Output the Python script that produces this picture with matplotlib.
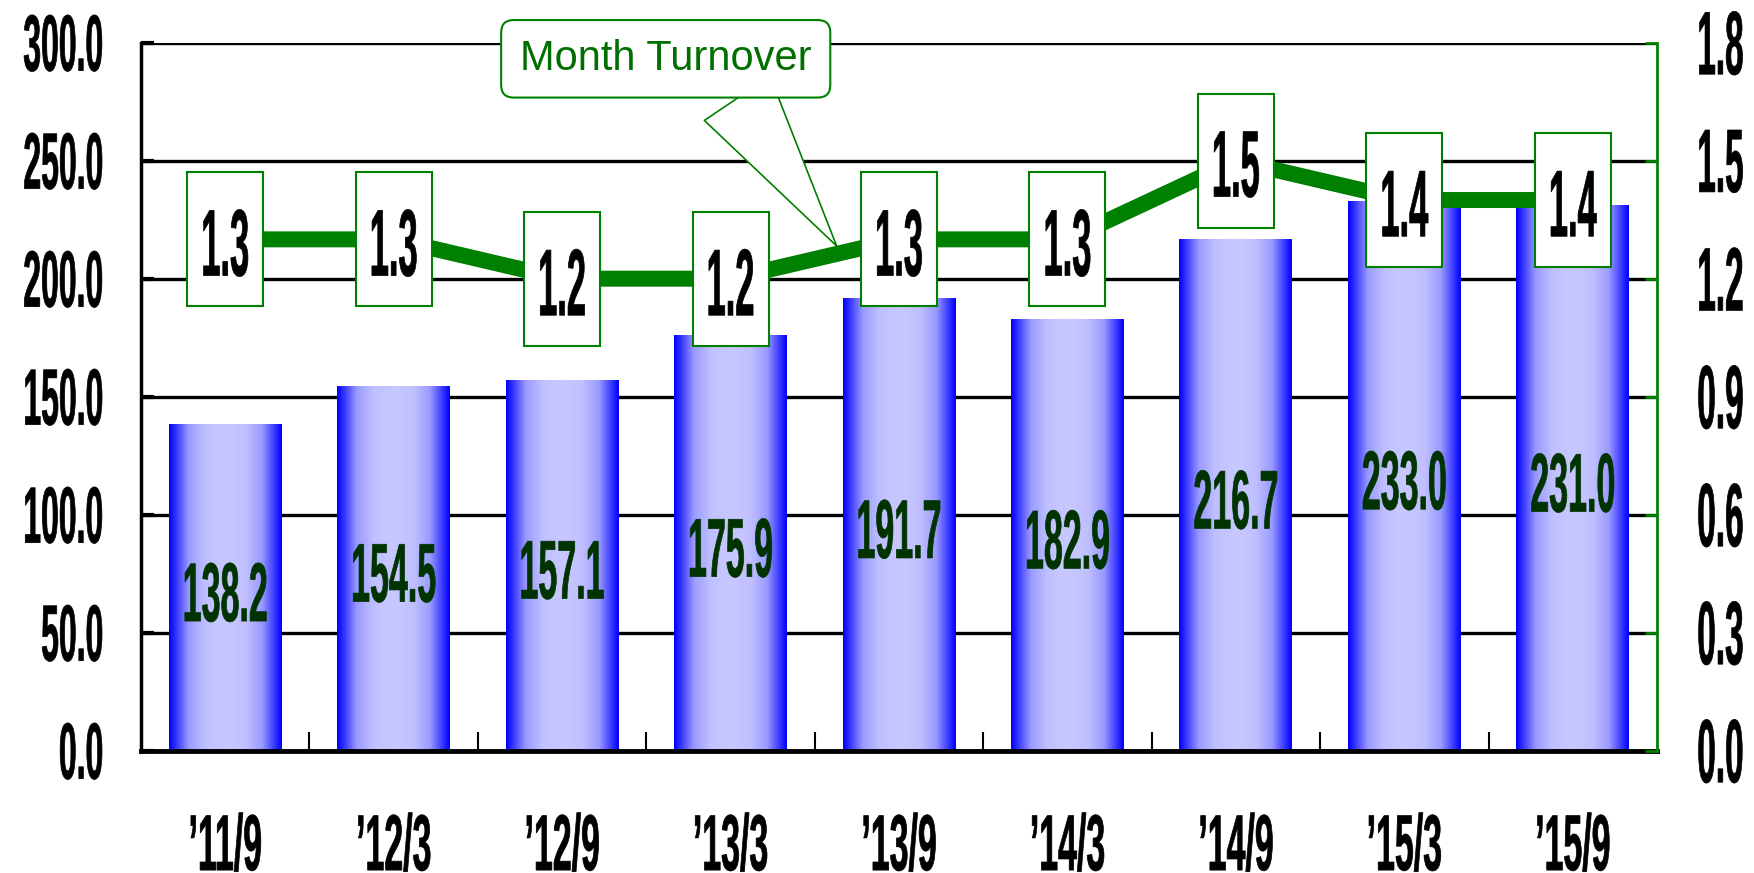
import numpy as np
import matplotlib
matplotlib.use("Agg")
import matplotlib.pyplot as plt
from matplotlib.colors import LinearSegmentedColormap
from matplotlib.patheffects import AbstractPathEffect
from matplotlib.transforms import Affine2D
from matplotlib.path import Path

# data
periods = ["’11/9", "’12/3", "’12/9", "’13/3", "’13/9", "’14/3", "’14/9", "’15/3", "’15/9"]
amount = [138.2, 154.5, 157.1, 175.9, 191.7, 182.9, 216.7, 233.0, 231.0]
turnover = [1.3, 1.3, 1.2, 1.2, 1.3, 1.3, 1.5, 1.4, 1.4]
left_ticks = [0, 50, 100, 150, 200, 250, 300]
right_ticks = [0.0, 0.3, 0.6, 0.9, 1.2, 1.5, 1.8]

GREEN = "#008000"
FONT = "Liberation Sans"


# stretches text vertically and thickens it a little (tall narrow bold look)
class Tall(AbstractPathEffect):
    def __init__(self, sy=2.4, lw=0.5, anchor="center"):
        super().__init__()
        self.sy = sy
        self.lw = lw
        self.anchor = anchor

    def draw_path(self, renderer, gc, tpath, affine, rgbFace=None):
        path = affine.transform_path(tpath)
        ext = path.get_extents()
        if self.anchor == "top":
            cy = ext.y1
        else:
            cy = 0.5 * (ext.y0 + ext.y1)
        t = Affine2D().translate(0, -cy).scale(1, self.sy).translate(0, cy)
        gc0 = renderer.new_gc()
        gc0.copy_properties(gc)
        gc0.set_linewidth(self.lw)
        gc0.set_foreground(rgbFace)
        gc0.set_joinstyle("round")
        renderer.draw_path(gc0, path, t, rgbFace)
        gc0.restore()


# fixed size box (pixels) around the turnover labels
def label_box(x0, y0, width, height, mutation_size):
    cx = x0 + width / 2
    cy = y0 + height / 2 + 7
    w, h = 38, 67
    return Path([(cx - w, cy - h), (cx + w, cy - h), (cx + w, cy + h),
                 (cx - w, cy + h), (cx - w, cy - h)], closed=True)


fig = plt.figure(figsize=(17.54, 8.73), dpi=100)
fig.subplots_adjust(left=0.0804, right=0.9447, bottom=0.1401, top=0.9511)
ax = fig.add_subplot(111)
ax2 = ax.twinx()

x = np.arange(len(periods))

# bars with horizontal blue gradient
bars = ax.bar(x, amount, width=0.67, color="none", edgecolor="none", zorder=2)
cmap = LinearSegmentedColormap.from_list(
    "bar", [(0.0, "#c8c8ff"), (0.35, "#c0c0ff"), (0.65, "#9a9aff"), (1.0, "#0000ff")])
grad = np.abs(np.linspace(-1, 1, 300))[None, :]
for r in bars:
    ax.imshow(grad, extent=(r.get_x(), r.get_x() + r.get_width(), 0, r.get_height()),
              aspect="auto", cmap=cmap, vmin=0, vmax=1, interpolation="bilinear", zorder=2)

for i, v in enumerate(amount):
    t = ax.annotate(f"{v:.1f}", xy=(i, v / 2), xytext=(0, -8), textcoords="offset pixels",
                    ha="center", va="center", fontsize=24.5, fontweight="bold",
                    family=FONT, color="#003300", zorder=4)
    t.set_path_effects([Tall(2.45)])

ax.set_xlim(-0.5, len(periods) - 0.5)
ax.set_ylim(0, 300)
ax.set_yticks(left_ticks)
ax.set_yticklabels([f"{v:.1f}" for v in left_ticks])
ax.set_xticks(x)
ax.set_xticklabels(periods)
ax.set_xticks(np.arange(0.5, len(periods) - 1, 1), minor=True)

ax.yaxis.grid(True, color="black", lw=2.4)
ax.set_axisbelow(True)
ax.tick_params(axis="y", direction="in", length=9, width=3, pad=27, labelsize=23)
ax.tick_params(axis="x", which="major", length=0, pad=45, labelsize=24.4)
ax.tick_params(axis="x", which="minor", direction="in", length=14, width=1.5, color="black")
for lbl in ax.get_yticklabels():
    lbl.set_fontweight("bold")
    lbl.set_family(FONT)
    lbl.set_path_effects([Tall(2.5)])
for lbl in ax.get_xticklabels():
    lbl.set_fontweight("bold")
    lbl.set_family(FONT)
    lbl.set_path_effects([Tall(2.34, anchor="top")])

ax.spines["top"].set_visible(False)
ax.spines["right"].set_visible(False)
ax.spines["left"].set_linewidth(2.5)
ax.spines["bottom"].set_linewidth(3.5)

# month turnover line on right axis
ax2.plot(x, turnover, color=GREEN, lw=11.5, zorder=2, solid_joinstyle="miter")
ax2.set_ylim(0, 1.8)
ax2.set_yticks(right_ticks)
ax2.set_yticklabels([f"{v:.1f}" for v in right_ticks])
ax2.tick_params(axis="y", direction="in", length=9, width=2, color=GREEN, pad=29, labelsize=24)
for lbl in ax2.get_yticklabels():
    lbl.set_fontweight("bold")
    lbl.set_family(FONT)
    lbl.set_path_effects([Tall(2.7)])
for s in ["top", "left", "bottom"]:
    ax2.spines[s].set_visible(False)
ax2.spines["right"].set_color(GREEN)
ax2.spines["right"].set_linewidth(2)

for i, v in enumerate(turnover):
    t = ax2.annotate(f"{v:.1f}", xy=(i, v), xytext=(0, -7), textcoords="offset pixels",
                     ha="center", va="center", fontsize=24.8,
                     fontweight="bold", family=FONT, color="black", zorder=5,
                     bbox=dict(boxstyle=label_box, fc="white", ec=GREEN, lw=1.5))
    t.set_path_effects([Tall(2.75)])

# callout box with wedge pointer
ax2.annotate("Month Turnover", xy=(3.63, 1.283), xytext=(2.615, 1.759), textcoords="data",
             ha="center", va="center", fontsize=30, family=FONT, color="#006f00",
             zorder=6, annotation_clip=False,
             bbox=dict(boxstyle="round,pad=0.45,rounding_size=0.3", fc="white",
                       ec=GREEN, lw=1.5),
             arrowprops=dict(arrowstyle="wedge,tail_width=1.9,shrink_factor=0.5",
                             fc="white", ec=GREEN, lw=1.2, relpos=(0.7, 0.0),
                             shrinkA=0, shrinkB=0, mutation_scale=30))

fig.savefig("out.png", dpi=100)
